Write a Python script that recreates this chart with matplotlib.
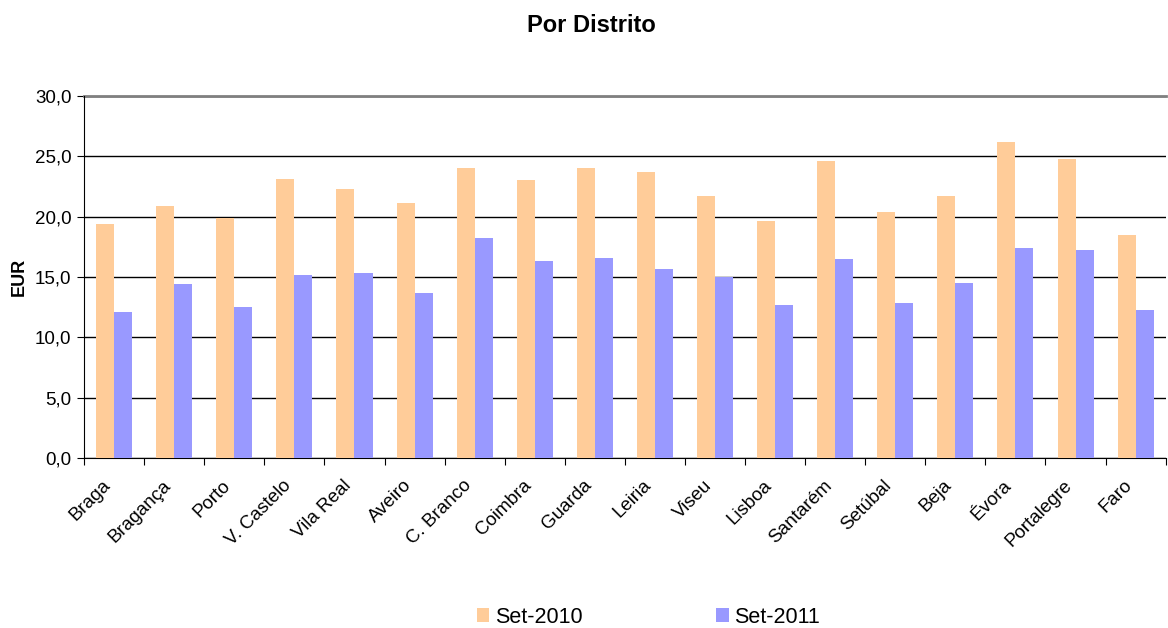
import numpy as np
import matplotlib.pyplot as plt
import matplotlib.transforms as mtransforms

plt.rcParams['font.family'] = ['Liberation Sans', 'DejaVu Sans']

distritos = ["Braga", "Bragança", "Porto", "V. Castelo", "Vila Real", "Aveiro",
             "C. Branco", "Coimbra", "Guarda", "Leiria", "Viseu", "Lisboa",
             "Santarém", "Setúbal", "Beja", "Évora", "Portalegre", "Faro"]
set_2010 = [19.4, 20.9, 19.9, 23.1, 22.3, 21.1, 24.0, 23.0, 24.0, 23.7, 21.7, 19.6,
            24.6, 20.4, 21.7, 26.2, 24.8, 18.5]
set_2011 = [12.1, 14.4, 12.5, 15.2, 15.3, 13.7, 18.2, 16.3, 16.6, 15.7, 15.0, 12.7,
            16.5, 12.8, 14.5, 17.4, 17.2, 12.3]

fig = plt.figure(figsize=(11.68, 6.28), dpi=100)
ax = fig.add_axes([0.072, 0.271, 0.926, 0.576])

x = np.arange(len(distritos))
w = 0.3
ax.bar(x - w / 2, set_2010, w, color="#FFCC99", label="Set-2010", zorder=3)
ax.bar(x + w / 2, set_2011, w, color="#9999FF", label="Set-2011", zorder=3)

ax.set_xlim(-0.5, len(distritos) - 0.5)
ax.set_ylim(0, 30)
yt = np.arange(0, 30.1, 5)
ax.set_yticks(yt)
ax.set_yticklabels([f"{v:.1f}".replace(".", ",") for v in yt], fontsize=13.5)
ax.set_axisbelow(True)
ax.yaxis.grid(True, color="black", linewidth=1)
ax.axhline(30, color="#808080", linewidth=2, zorder=1, clip_on=False)

# ticks between groups, labels at group centres
ax.set_xticks(np.arange(-0.5, len(distritos), 1))
ax.set_xticklabels([])
ax.set_xticks(x, minor=True)
ax.set_xticklabels(distritos, minor=True, rotation=45, ha="right", va="center",
                   rotation_mode="anchor", fontsize=13.5)
ax.tick_params(axis="x", which="minor", length=0, pad=18)
ax.tick_params(axis="x", which="major", length=5, color="black")
ax.tick_params(axis="y", length=5, pad=4)
shift = mtransforms.ScaledTranslation(-6 / 100, 0, fig.dpi_scale_trans)
for lbl in ax.get_xticklabels(minor=True):
    lbl.set_transform(lbl.get_transform() + shift)

ax.spines["top"].set_visible(False)
ax.spines["right"].set_visible(False)
ax.spines["left"].set_color("black")
ax.spines["bottom"].set_color("black")

ax.set_ylabel("EUR", fontsize=13, fontweight="bold", labelpad=5)
fig.suptitle("Por Distrito", fontsize=17, fontweight="bold", x=0.506, y=0.977)

fig.legend(loc="center", bbox_to_anchor=(0.555, 0.017), ncol=2, frameon=False,
           fontsize=15.5, handlelength=0.6, handleheight=0.6, handletextpad=0.25,
           columnspacing=6.2)

fig.savefig("out.png", dpi=100)
